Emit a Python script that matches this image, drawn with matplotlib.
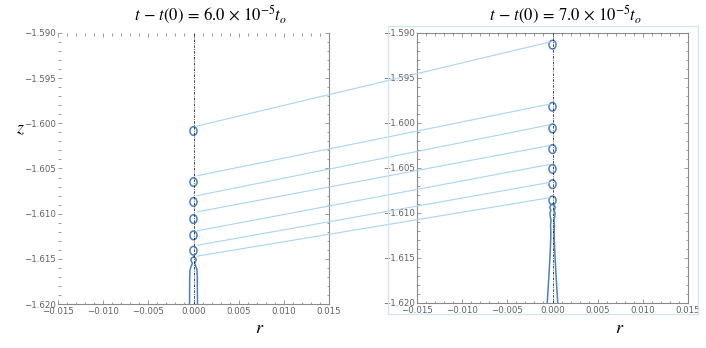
import matplotlib
matplotlib.use("Agg")
import matplotlib.pyplot as plt
from matplotlib.patches import Ellipse, Rectangle, ConnectionPatch
from matplotlib.ticker import MultipleLocator, FuncFormatter

# droplet centres (z)
left_drop_z = [-1.60085, -1.6065, -1.6087, -1.6106, -1.6124, -1.6141]
right_drop_z = [-1.5913, -1.5982, -1.6006, -1.6029, -1.6051, -1.6068, -1.6086]
drop_r = 0.00039      # half width
drop_h = 0.00048      # half height

# filament profiles (z, r) at the bottom of each panel
left_fil_z = [-1.6148, -1.6149, -1.6151, -1.6153, -1.6155, -1.6158, -1.6162, -1.6170, -1.6200]
left_fil_r = [0.0, 0.00022, 0.0003, 0.00022, 0.00012, 0.00025, 0.00038, 0.00042, 0.00044]
right_fil_z = [-1.6090, -1.6091, -1.6094, -1.6097, -1.6100, -1.6104, -1.6108, -1.6114,
               -1.6120, -1.6130, -1.6145, -1.6167, -1.6200]
right_fil_r = [0.0, 0.0002, 0.0003, 0.00018, 0.00028, 0.00025, 0.00016, 0.00022,
               0.00018, 0.0002, 0.00026, 0.00038, 0.00058]

# connecting lines between the two times
link_left_z = [-1.6003, -1.6058, -1.6080, -1.6098, -1.6119, -1.6135, -1.6147]
link_right_z = [-1.5910, -1.5979, -1.6002, -1.6025, -1.6046, -1.6066, -1.6083]

titles = [r"$t\,-\,t(0)\,=\,6.0\,\times\,10^{-5}t_o$", r"$t\,-\,t(0)\,=\,7.0\,\times\,10^{-5}t_o$"]

plt.rcParams["mathtext.fontset"] = "stix"
blue = "#4a80c4"
gray = "#8a8a8a"

fig = plt.figure(figsize=(7.06, 3.48), dpi=100)
ax1 = fig.add_axes([58/706, 44/348, 271/706, 271/348])
ax2 = fig.add_axes([417/706, 45/348, 271/706, 270/348])


def fmt(v, pos):
    s = "%.3f" % v
    return s.replace("-", "\u2212")


def style(ax, title, title_x):
    ax.set_xlim(-0.015, 0.015)
    ax.set_ylim(-1.620, -1.590)
    ax.xaxis.set_major_locator(MultipleLocator(0.005))
    ax.xaxis.set_minor_locator(MultipleLocator(0.001))
    ax.yaxis.set_major_locator(MultipleLocator(0.005))
    ax.yaxis.set_minor_locator(MultipleLocator(0.001))
    ax.xaxis.set_major_formatter(FuncFormatter(fmt))
    ax.yaxis.set_major_formatter(FuncFormatter(fmt))
    ax.tick_params(which="both", direction="in", top=True, right=True,
                   color=gray, labelcolor="#606060", labelsize=6.2, width=0.6)
    ax.tick_params(axis="x", pad=2.2)
    ax.tick_params(axis="y", pad=1.5)
    ax.tick_params(which="major", length=3.2)
    ax.tick_params(which="minor", length=1.8)
    for s in ax.spines.values():
        s.set_color(gray)
        s.set_linewidth(0.8)
    ax.axvline(0, color="#222222", lw=0.6, ls=(0, (3, 1.5, 1, 1.5)), zorder=3)
    fig.text(title_x, 1 - 15/348, title, ha="center", va="center", fontsize=12)


style(ax1, titles[0], 210/706)
style(ax2, titles[1], 565/706)
ax1.spines["top"].set_visible(False)
ax1.spines["left"].set_visible(False)

for z in left_drop_z:
    ax1.add_patch(Ellipse((0, z), 2*drop_r, 2*drop_h, fill=False, ec=blue, lw=1.1, zorder=2))
for z in right_drop_z:
    ax2.add_patch(Ellipse((0, z), 2*drop_r, 2*drop_h, fill=False, ec=blue, lw=1.1, zorder=2))

ax1.plot(left_fil_r, left_fil_z, color=blue, lw=1.1)
ax1.plot([-r for r in left_fil_r], left_fil_z, color=blue, lw=1.1)
ax2.plot(right_fil_r, right_fil_z, color=blue, lw=1.1)
ax2.plot([-r for r in right_fil_r], right_fil_z, color=blue, lw=1.1)

for zl, zr in zip(link_left_z, link_right_z):
    con = ConnectionPatch(xyA=(0.0004, zl), coordsA=ax1.transData,
                          xyB=(-0.0003, zr), coordsB=ax2.transData,
                          color="#a8d4f5", lw=0.8)
    fig.add_artist(con)

fig.add_artist(Rectangle((388/706, 34/348), 310/706, 288/348, transform=fig.transFigure,
                         fill=False, ec="#cde6f8", lw=0.9))

fig.text(20/706, 1 - 128/348, "$z$", fontsize=13, ha="center", va="center")
fig.text(260/706, 1 - 328/348, "$r$", fontsize=13, ha="center", va="center")
fig.text(620/706, 1 - 328/348, "$r$", fontsize=13, ha="center", va="center")

fig.savefig("out.png", dpi=100)
